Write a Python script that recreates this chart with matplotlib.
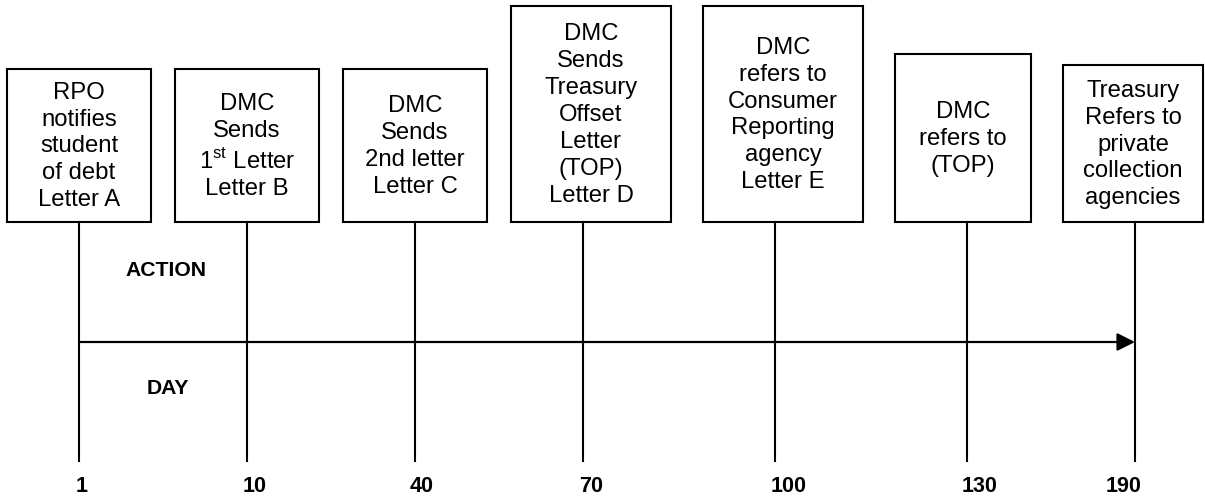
import matplotlib
matplotlib.use("Agg")
import matplotlib.pyplot as plt
from matplotlib.patches import Rectangle

# --- Chart content ---
days = ["1", "10", "40", "70", "100", "130", "190"]
actions = [
    "RPO\nnotifies\nstudent\nof debt\nLetter A",
    "DMC\nSends\n1$^{\\mathrm{st}}$ Letter\nLetter B",
    "DMC\nSends\n2nd letter\nLetter C",
    "DMC\nSends\nTreasury\nOffset\nLetter\n(TOP)\nLetter D",
    "DMC\nrefers to\nConsumer\nReporting\nagency\nLetter E",
    "DMC\nrefers to\n(TOP)",
    "Treasury\nRefers to\nprivate\ncollection\nagencies",
]

# --- Layout (pixels, y grows downwards) ---
line_x = [79, 247, 415, 583, 775, 967, 1135]
box_left = [7, 175, 343, 511, 703, 895, 1063]
box_right = [151, 319, 487, 671, 863, 1031, 1203]
box_top = [69, 69, 69, 6, 6, 54, 65]
box_bottom = 222
line_bottom = 461
arrow_y = 342
label_dx = [-3, -4, -5, -4, -4, -5, -29]

plt.rcParams["font.family"] = ["Liberation Sans", "DejaVu Sans"]
plt.rcParams["mathtext.fontset"] = "custom"
plt.rcParams["mathtext.rm"] = "Liberation Sans"

fig = plt.figure(figsize=(12.05, 4.97), dpi=100)
ax = fig.add_axes([0, 0, 1, 1])
ax.set_xlim(0, 1205)
ax.set_ylim(497, 0)
ax.axis("off")

for i, text in enumerate(actions):
    l, r, t = box_left[i], box_right[i], box_top[i]
    ax.add_patch(Rectangle((l, t), r - l, box_bottom - t, fill=False,
                           edgecolor="black", lw=1.5))
    ax.text((l + r) / 2, (t + box_bottom) / 2 + 1, text, ha="center", va="center",
            fontsize=17.2, linespacing=1.29, color="black")
    ax.plot([line_x[i], line_x[i]], [box_bottom, line_bottom], color="black", lw=1.5)
    ax.text(line_x[i] + label_dx[i], 486, days[i], ha="left", va="center",
            fontsize=15.5, fontweight="bold")

ax.annotate("", xy=(line_x[-1], arrow_y), xytext=(line_x[0], arrow_y),
            arrowprops=dict(arrowstyle="-|>", color="black", lw=1.6,
                            mutation_scale=27, shrinkA=0, shrinkB=0))

ax.text(166, 270, "ACTION", ha="center", va="center", fontsize=15.2, fontweight="bold")
ax.text(168, 389, "DAY", ha="center", va="center", fontsize=15.2, fontweight="bold")

fig.savefig("out.png", dpi=100)
